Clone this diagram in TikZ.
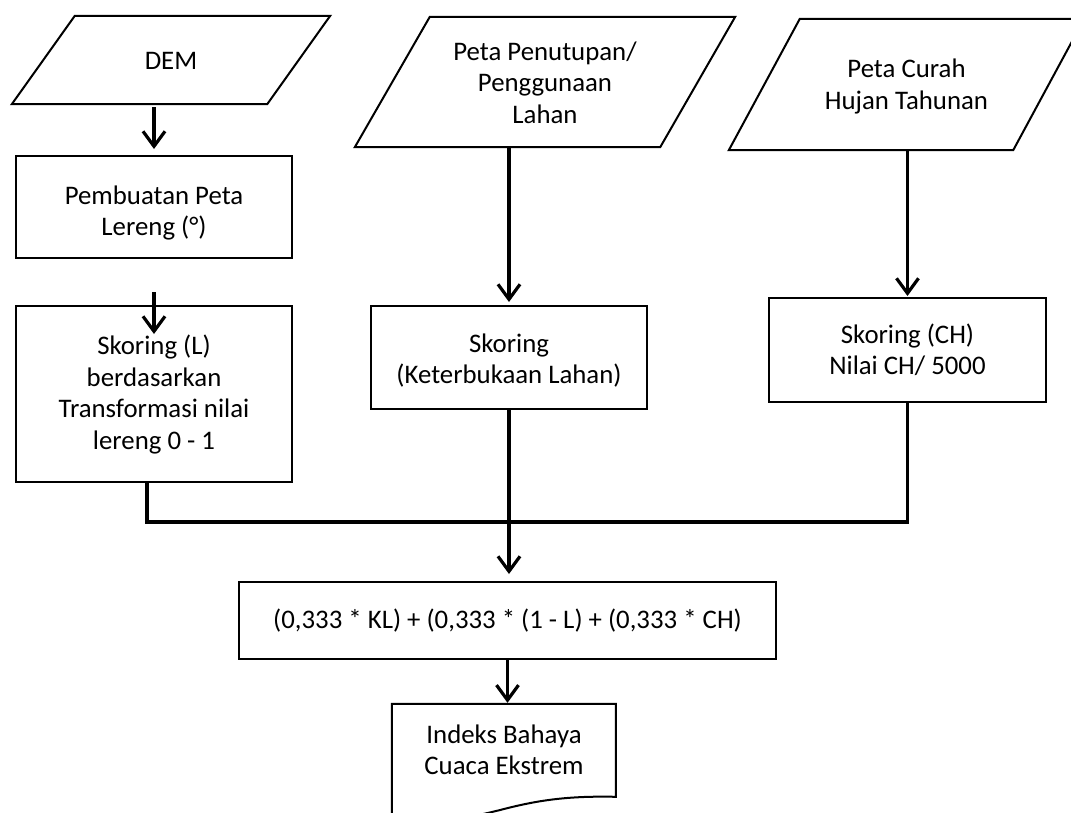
\documentclass[tikz,border=0pt]{standalone}
\usepackage{fontspec}
\setmainfont{Carlito}
\usetikzlibrary{arrows.meta,calc}
% centred lines of text, lowered by #1 without changing the box extent
\newcommand\nodelines[2]{\raisebox{-#1}[\height][\depth]{\begin{tabular}{@{}c@{}}#2\end{tabular}}}
\begin{document}
\begin{tikzpicture}[x=1pt,y=-1pt,
  every node/.style={font=\fontsize{26.8}{31.5}\selectfont, inner sep=0pt},
  procbox/.style n args={2}{draw, line width=2pt, minimum width=#1, minimum height=#2},
  textarea/.style n args={2}{minimum width=#1, minimum height=#2},
  shapeline/.style={line width=2pt, line join=miter},
  flowarrow/.style={line width=3.2pt, -{Straight Barb[length=15pt,width=22pt]}},
  busline/.style={line width=3.2pt, line join=miter}
]
\useasboundingbox (0,0) rectangle (1071,812);

% input data (parallelograms)
\node[textarea={255pt}{88pt}] (dem) at (171,60) {\nodelines{3pt}{DEM}};
\node[textarea={305pt}{130pt}] (lulc) at (545,82) {\nodelines{3.5pt}{Peta Penutupan/\\Penggunaan\\Lahan}};
\node[textarea={284pt}{131pt}] (rain) at (906.5,84.5) {\nodelines{2.5pt}{Peta Curah\\Hujan Tahunan}};

\draw[shapeline] ([xshift=31.5pt]dem.north west) -- ([xshift=31.5pt]dem.north east)
  -- ([xshift=-31.5pt]dem.south east) -- ([xshift=-31.5pt]dem.south west) -- cycle;
\draw[shapeline] ([xshift=37.5pt]lulc.north west) -- ([xshift=37.5pt]lulc.north east)
  -- ([xshift=-37.5pt]lulc.south east) -- ([xshift=-37.5pt]lulc.south west) -- cycle;
\draw[shapeline] ([xshift=35.5pt]rain.north west) -- ([xshift=35.5pt]rain.north east)
  -- ([xshift=-35.5pt]rain.south east) -- ([xshift=-35.5pt]rain.south west) -- cycle;

% processing steps
\node[procbox={276pt}{102pt}] (slope) at (154,207) {\nodelines{6.5pt}{Pembuatan Peta\\Lereng (°)}};
\node[procbox={276pt}{176pt}] (skL) at (154,394) {\nodelines{1.5pt}{Skoring (L)\\berdasarkan\\Transformasi nilai\\lereng 0 - 1}};
\node[procbox={276pt}{103pt}] (skKL) at (509,357.5) {\nodelines{4pt}{Skoring\\(Keterbukaan Lahan)}};
\node[procbox={277pt}{104pt}] (skCH) at (907.5,350) {\nodelines{2.5pt}{Skoring (CH)\\Nilai CH/ 5000}};
\node[procbox={537pt}{77pt}] (formula) at (507.5,620.5) {\nodelines{2pt}{(0,333 * KL) + (0,333 * (1 - L) + (0,333 * CH)}};

% output document
\node[textarea={224pt}{97pt}] (doc) at (504,752.5) {\nodelines{0pt}{Indeks Bahaya\\Cuaca Ekstrem}};
\begin{scope}[shift={(doc.north west)}]
  \draw[shapeline] (0,0) -- (224,0) -- (224,93)
    .. controls (178,92) and (148,96) .. (113,105)
    .. controls (78,114) and (38,122) .. (0,118) -- cycle;
\end{scope}

% connectors
\coordinate (bus) at (0,522);
\draw[flowarrow, shorten <=3pt, shorten >=6pt] (dem.south -| slope.north) -- (slope.north);
\draw[flowarrow] ([yshift=13pt]skL.north) -- ([yshift=-29pt]skL.north);
\draw[flowarrow, shorten >=3pt] (lulc.south -| skKL.north) -- (skKL.north);
\draw[flowarrow, shorten >=1pt] (rain.south -| skCH.north) -- (skCH.north);
\draw[busline] ([xshift=-7pt]skL.south) |- (skCH.south |- bus) -- (skCH.south);
\draw[flowarrow, shorten >=7pt] (skKL.south) -- (skKL.south |- formula.north);
\draw[flowarrow, shorten >=1pt] (formula.south) -- (formula.south |- doc.north);
\end{tikzpicture}
\end{document}
